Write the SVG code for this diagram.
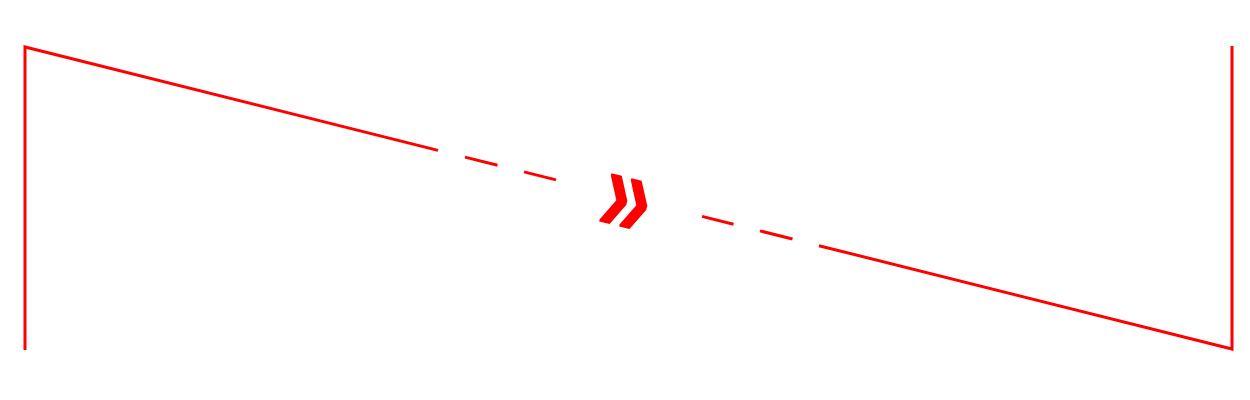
<svg xmlns="http://www.w3.org/2000/svg" width="1250" height="400" viewBox="0 0 1250 400">
<style>
.ln{stroke:#ff0000;stroke-width:3;fill:none;stroke-linecap:butt}
.chev{fill:#ff0000;font-family:"Liberation Sans",Arial,sans-serif;font-weight:bold;font-size:90px}
</style>
<rect width="1250" height="400" fill="#ffffff"/>
<g id="connectors">
<path class="ln" d="M25,350 L25,47 L438,150.34"/>
<line class="ln" x1="465" y1="157.09" x2="497.5" y2="165.22"/>
<line class="ln" x1="524" y1="171.85" x2="556" y2="179.86"/>
<line class="ln" x1="702" y1="216.39" x2="733.5" y2="224.27"/>
<line class="ln" x1="760" y1="230.90" x2="792.5" y2="239.04"/>
<path class="ln" d="M819,245.67 L1232,349 L1232,46"/>
</g>
<g id="chevron" transform="translate(627,198) rotate(14.05) scale(1.02,1.42)">
<text class="chev" x="0" y="27" text-anchor="middle">»</text>
</g>
</svg>
